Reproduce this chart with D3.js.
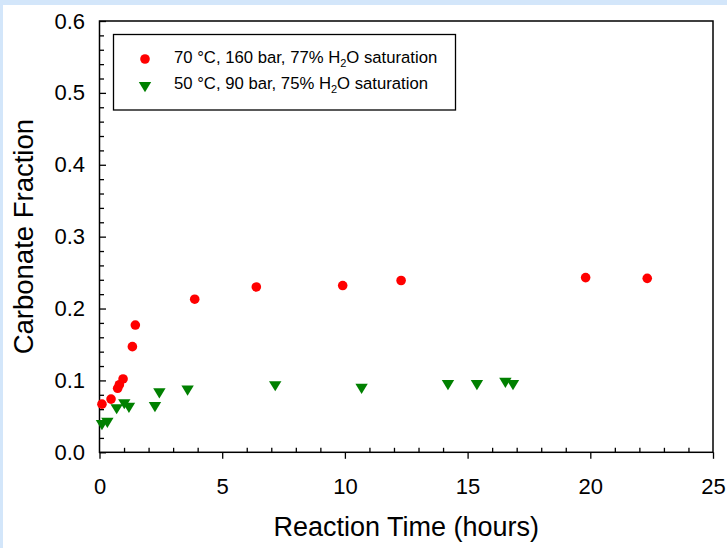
<!DOCTYPE html>
<html>
<head>
<meta charset="utf-8">
<script src="https://cdn.jsdelivr.net/npm/d3@7/dist/d3.min.js"></script>
<style>
  html, body { margin: 0; padding: 0; background: #d3e6fa; }
  svg { display: block; }
  text { font-family: "Liberation Sans", Arial, sans-serif; fill: #000; }
</style>
</head>
<body>
<svg id="chart" width="727" height="548"></svg>
<script>
// ---- data ----
const seriesNames = ["70 °C, 160 bar, 77% H|2|O saturation", "50 °C, 90 bar, 75% H|2|O saturation"];
const redHours  = [0.10, 0.47, 0.74, 0.81, 0.96, 1.34, 1.46, 3.88, 6.39, 9.91, 12.29, 19.81, 22.32];
const redFrac   = [0.067, 0.074, 0.089, 0.094, 0.102, 0.147, 0.177, 0.213, 0.230, 0.232, 0.239, 0.243, 0.242];
const greenHours = [0.10, 0.32, 0.70, 1.01, 1.20, 2.26, 2.44, 3.59, 7.16, 10.68, 14.20, 15.38, 16.54, 16.85];
const greenFrac  = [0.038, 0.041, 0.060, 0.067, 0.062, 0.063, 0.082, 0.086, 0.092, 0.0885, 0.0936, 0.0936, 0.0968, 0.0936];
const xMajorTicks = [0, 5, 10, 15, 20, 25];
const yMajorTicks = [0.0, 0.1, 0.2, 0.3, 0.4, 0.5, 0.6];
const xTitle = "Reaction Time (hours)";
const yTitle = "Carbonate Fraction";

const svg = d3.select("#chart");
// white page area with light blue border band at top/left
svg.append("rect").attr("x", 3).attr("y", 5).attr("width", 724).attr("height", 543).attr("fill", "#fff");

const x = d3.scaleLinear().domain([0, 25]).range([99.5, 713]);
const y = d3.scaleLinear().domain([0, 0.6]).range([452.3, 21]);

const xMinor = d3.range(0, 25.001, 1).filter(v => v % 5 !== 0);
const yMinor = d3.range(0, 61, 2).map(v => v / 100).filter(v => Math.round(v * 100) % 10 !== 0);

// minor x ticks (inward)
const gxm = svg.append("g").attr("transform", `translate(0,${y(0)})`)
  .call(d3.axisBottom(x).tickValues(xMinor).tickSize(-4.5).tickFormat(""));
// major x ticks (outward)
const gx = svg.append("g").attr("transform", `translate(0,${y(0)})`)
  .call(d3.axisBottom(x).tickValues(xMajorTicks).tickSize(6.5).tickPadding(19.5).tickFormat(d3.format("d")));
// minor y ticks (inward)
const gym = svg.append("g").attr("transform", `translate(${x(0)},0)`)
  .call(d3.axisLeft(y).tickValues(yMinor).tickSize(-4.5).tickFormat(""));
// major y ticks (inward)
const gy = svg.append("g").attr("transform", `translate(${x(0)},0)`)
  .call(d3.axisLeft(y).tickValues(yMajorTicks).tickSize(-6.5).tickPadding(14.5).tickFormat(d3.format(".1f")));

[gxm, gx, gym, gy].forEach(g => {
  g.select(".domain").remove();
  g.selectAll("line").attr("stroke", "#000").attr("stroke-width", 1.3);
  g.selectAll("text").style("font-family", '"Liberation Sans", Arial, sans-serif')
    .style("font-size", "22px").attr("fill", "#000");
});

// frame
svg.append("rect").attr("x", x(0)).attr("y", y(0.6))
  .attr("width", x(25) - x(0)).attr("height", y(0) - y(0.6))
  .attr("fill", "none").attr("stroke", "#000").attr("stroke-width", 1.5);

// axis titles
svg.append("text").attr("x", (x(0) + x(25)) / 2).attr("y", 536)
  .attr("text-anchor", "middle").style("font-size", "27px").text(xTitle);
svg.append("text").attr("transform", `translate(33,${(y(0) + y(0.6)) / 2}) rotate(-90)`)
  .attr("text-anchor", "middle").style("font-size", "27.5px").text(yTitle);

// markers
const triPath = "M-6.2,-5L6.2,-5L0,5.2Z";
const redData = redHours.map((h, i) => ({ h, v: redFrac[i] }));
const greenData = greenHours.map((h, i) => ({ h, v: greenFrac[i] }));

svg.append("g").selectAll("circle").data(redData).join("circle")
  .attr("cx", d => x(d.h)).attr("cy", d => y(d.v)).attr("r", 4.8)
  .attr("fill", "#ff0000");
svg.append("g").selectAll("path").data(greenData).join("path")
  .attr("d", triPath).attr("transform", d => `translate(${x(d.h)},${y(d.v)})`)
  .attr("fill", "#008000");

// legend
const lg = svg.append("g");
lg.append("rect").attr("x", 113.5).attr("y", 34.5).attr("width", 342).attr("height", 75.5)
  .attr("fill", "#fff").attr("stroke", "#000").attr("stroke-width", 1.3);
lg.append("circle").attr("cx", 145).attr("cy", 59).attr("r", 4.8).attr("fill", "#ff0000");
lg.append("path").attr("d", triPath).attr("transform", "translate(145,87)").attr("fill", "#008000");
const baselines = [63.3, 89];
seriesNames.forEach((name, i) => {
  const parts = name.split("|");
  const t = lg.append("text").attr("x", 174).attr("y", baselines[i]).style("font-size", "16.7px");
  t.append("tspan").text(parts[0]);
  t.append("tspan").attr("dy", 4).style("font-size", "11px").text(parts[1]);
  t.append("tspan").attr("dy", -4).text(parts[2]);
});
</script>
</body>
</html>
